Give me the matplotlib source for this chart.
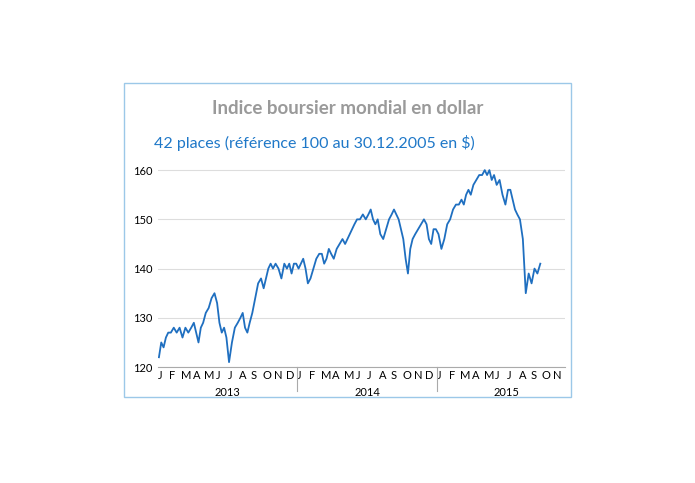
import matplotlib.pyplot as plt
from matplotlib.patches import Rectangle

# weekly readings, grouped by month (Jan 2013 .. Sep 2015)
months_2013 = [
    [122, 125, 124, 126, 127], [127, 128, 127, 128], [126, 128, 127, 128],
    [129, 127, 125, 128, 129], [131, 132, 134, 135], [133, 129, 127, 128, 126],
    [121, 125, 128, 129], [130, 131, 128, 127, 129], [131, 134, 137, 138],
    [136, 138, 140, 141, 140], [141, 140, 138, 141], [140, 141, 139, 141, 141],
]
months_2014 = [
    [140, 141, 142, 140, 137], [138, 140, 142, 143], [143, 141, 142, 144, 143],
    [142, 144, 145, 146], [145, 146, 147, 148, 149], [150, 150, 151, 150],
    [151, 152, 150, 149, 150], [147, 146, 148, 150], [151, 152, 151, 150, 148],
    [146, 142, 139, 144, 146], [147, 148, 149, 150], [149, 146, 145, 148, 148],
]
months_2015 = [
    [147, 144, 146, 149], [150, 152, 153, 153], [154, 153, 155, 156, 155],
    [157, 158, 159, 159], [160, 159, 160, 158, 159], [157, 158, 155, 153],
    [156, 156, 154, 152, 151], [150, 146, 135, 139], [137, 140, 139, 141],
]
month_labels = list("JFMAMJJASOND") * 2 + list("JFMAMJJASON")
years = ["2013", "2014", "2015"]

x, y = [], []
for m, vals in enumerate(months_2013 + months_2014 + months_2015):
    n = len(vals)
    for i, v in enumerate(vals):
        x.append(m + (i + 0.5) / n)
        y.append(v)

plt.rcParams["font.family"] = "Lato"
fig = plt.figure(figsize=(6.95, 4.83), dpi=100)
fig.patches.append(Rectangle((0.178, 0.178), 0.643, 0.650, transform=fig.transFigure,
                             fill=False, edgecolor="#9cc8e8", linewidth=1))
fig.text(0.5, 0.776, "Indice boursier mondial en dollar", ha="center", va="center",
         fontsize=13.5, color="#9a9a9a", fontweight="bold")
fig.text(0.222, 0.704, "42 places (référence 100 au 30.12.2005 en $)", ha="left",
         va="center", fontsize=11.5, color="#1f78c8")

ax = fig.add_axes([0.227, 0.240, 0.586, 0.418])
ax.plot(x, y, color="#1f6fc0", linewidth=1.3)
ax.set_xlim(0, 35)
ax.set_ylim(120, 161)
ax.set_yticks([120, 130, 140, 150, 160])
ax.grid(axis="y", color="#dddddd", linewidth=0.8)
ax.set_axisbelow(True)
for s in ["left", "right", "top"]:
    ax.spines[s].set_visible(False)
ax.spines["bottom"].set_color("#aaaaaa")
ax.tick_params(axis="y", length=0, labelsize=8)
ax.set_xticks(range(len(month_labels)))
ax.set_xticklabels(month_labels, fontsize=8, ha="left")
ax.tick_params(axis="x", length=0, pad=2)
for k, yr in enumerate(years):
    ax.text(k * 12 + 6, -0.1, yr, transform=ax.get_xaxis_transform(), ha="center",
            va="top", fontsize=8)
    if k > 0:
        ax.plot([k * 12, k * 12], [0, -0.12], transform=ax.get_xaxis_transform(),
                color="#aaaaaa", linewidth=0.8, clip_on=False)

fig.savefig("out.png", dpi=100)
